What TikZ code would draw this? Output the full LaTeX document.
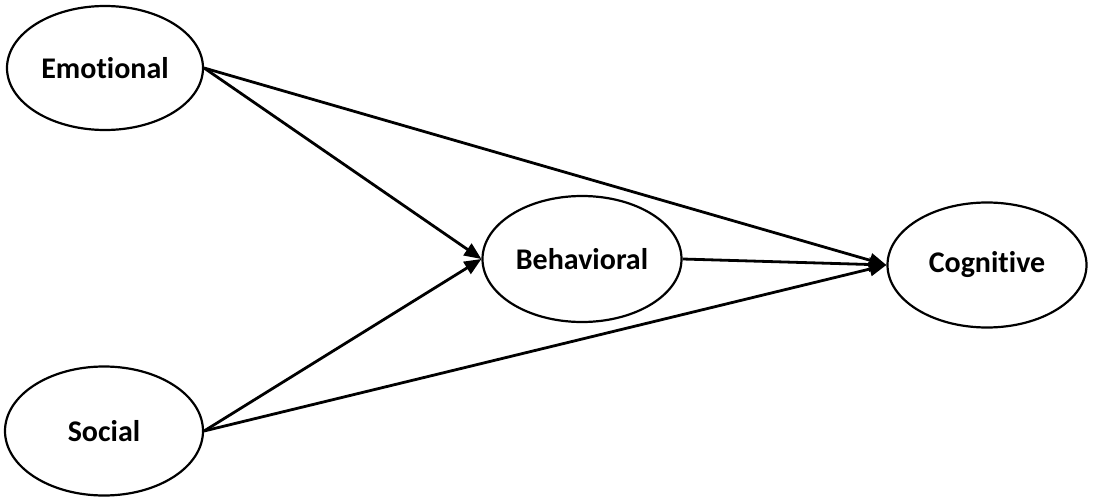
\documentclass[tikz,border=0pt]{standalone}
\usepackage{fontspec}
\setmainfont[Ligatures=NoCommon]{Carlito}
\usetikzlibrary{shapes.geometric,arrows.meta}
\begin{document}
\begin{tikzpicture}[x=1pt,y=-1pt,
  construct/.style={draw,ellipse,line width=2.2pt,fill=white,font=\fontsize{30}{32}\selectfont\bfseries,inner sep=0pt},
  path/.style={line width=2.8pt,-{Triangle[length=17pt,width=14pt]}}]
\useasboundingbox (0,0) rectangle (1093,503);
\node[construct,minimum width=196pt,minimum height=124pt] (emo) at (105,68) {Emotional};
\node[construct,minimum width=199pt,minimum height=126pt] (beh) at (582,259) {Behavioral};
\node[construct,minimum width=199pt,minimum height=125pt] (cog) at (987,265) {Cognitive};
\node[construct,minimum width=198pt,minimum height=129pt] (soc) at (104,431) {Social};
\draw[path] (emo.east) -- (beh.west);
\draw[path] (soc.east) -- (beh.west);
\draw[path] (emo.east) -- (cog.west);
\draw[path] (beh.east) -- (cog.west);
\draw[path] (soc.east) -- (cog.west);
\end{tikzpicture}
\end{document}
